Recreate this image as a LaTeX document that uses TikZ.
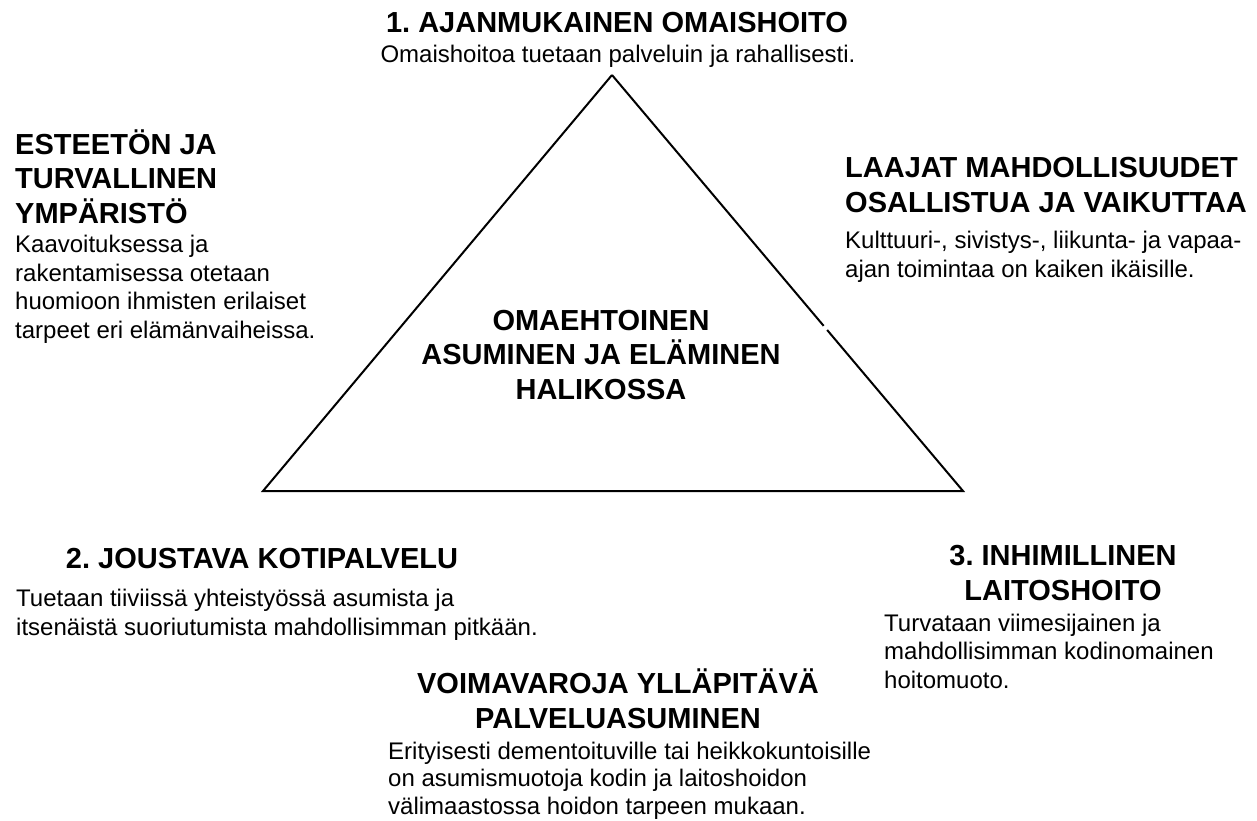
\documentclass[tikz,border=0pt]{standalone}
\usepackage{fontspec}
\setmainfont{Liberation Sans}
\usetikzlibrary{calc}

\tikzset{
    heading/.style={font=\fontsize{29}{34.5}\selectfont\bfseries, inner sep=0pt, align=center},
    bodytext/.style={font=\fontsize{24}{28.4}\selectfont, inner sep=0pt, align=left, anchor=base west},
}

\begin{document}
\begin{tikzpicture}[x=1pt, y=-1pt]
            \useasboundingbox (0,0) rectangle (1257,820);

            % triangle
            \coordinate (apex) at (612,75);
            \coordinate (bl) at (263,491);
            \coordinate (br) at (963,491);
            \draw[line width=2pt, line join=miter] (apex) -- ($(apex)!0.603!(br)$);
            \draw[line width=2pt, line join=miter] ($(apex)!0.613!(br)$) -- (br) -- (bl) -- (apex);

            % base anchor of a multi-line node = baseline of its last line
            \node[heading, anchor=base] (center) at (601,399)
                {OMAEHTOINEN\\ASUMINEN JA ELÄMINEN\\HALIKOSSA};

            % top
            \node[heading, anchor=base] (omaisH) at (617,32) {1.\ AJANMUKAINEN OMAISHOITO};
            \node[bodytext, anchor=base] (omaisB) at (618,62) {Omaishoitoa tuetaan palveluin ja rahallisesti.};

            % left
            \node[heading, align=left, anchor=base west] (esteH) at (15,223)
                {ESTEETÖN JA\\TURVALLINEN\\YMPÄRISTÖ};
            \node[bodytext] (esteB) at (15,338)
                {Kaavoituksessa ja\\rakentamisessa otetaan\\huomioon ihmisten erilaiset\\tarpeet eri elämänvaiheissa.};

            % right
            \node[heading, align=left, anchor=base west] (osallH) at (845,212)
                {LAAJAT MAHDOLLISUUDET\\OSALLISTUA JA VAIKUTTAA};
            \node[bodytext] (osallB) at (845,277)
                {Kulttuuri-, sivistys-, liikunta- ja vapaa-\\ajan toimintaa on kaiken ikäisille.};

            % bottom left
            \node[heading, anchor=base] (kotiH) at (262,568) {2.\ JOUSTAVA KOTIPALVELU};
            \node[bodytext] (kotiB) at (16,635)
                {Tuetaan tiiviissä yhteistyössä asumista ja\\itsenäistä suoriutumista mahdollisimman pitkään.};

            % bottom right
            \node[heading, anchor=base] (laitosH) at (1063,600) {3.\ INHIMILLINEN\\LAITOSHOITO};
            \node[bodytext] (laitosB) at (884,688)
                {Turvataan viimesijainen ja\\mahdollisimman kodinomainen\\hoitomuoto.};

            % bottom middle
            \node[heading, anchor=base] (palvH) at (618,728) {VOIMAVAROJA YLLÄPITÄVÄ\\PALVELUASUMINEN};
            \node[bodytext, font=\fontsize{24}{27.5}\selectfont] (palvB) at (388,814)
                {Erityisesti dementoituville tai heikkokuntoisille\\on asumismuotoja kodin ja laitoshoidon\\välimaastossa hoidon tarpeen mukaan.};
\end{tikzpicture}
\end{document}
